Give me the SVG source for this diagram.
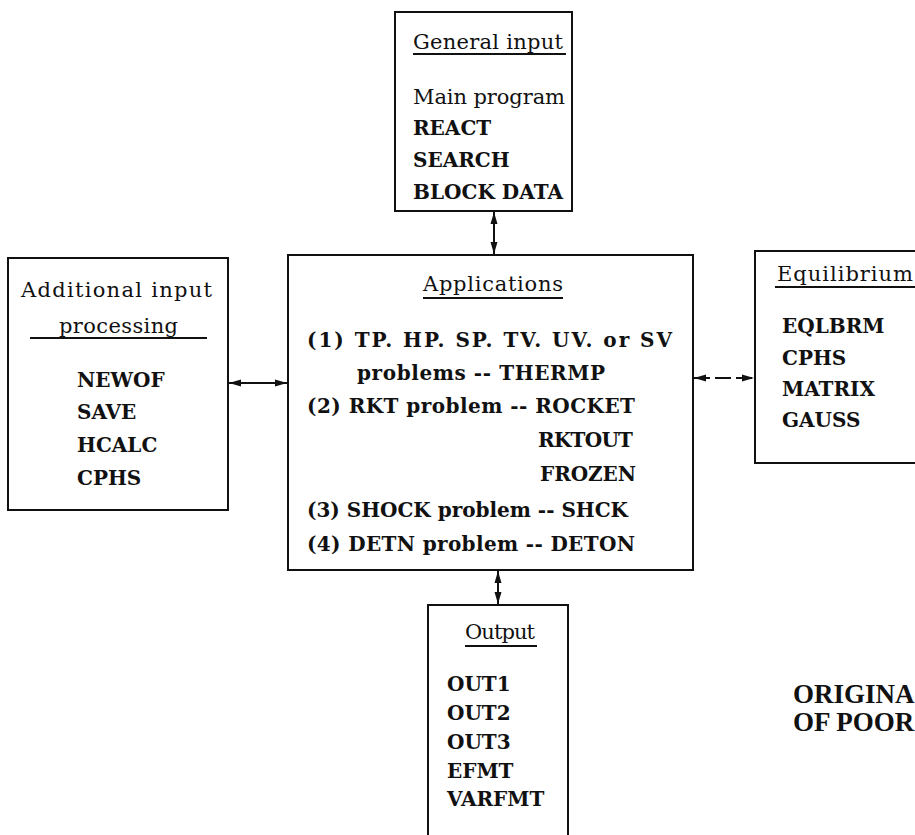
<svg xmlns="http://www.w3.org/2000/svg" width="915" height="835" viewBox="0 0 915 835">
<style>
text{font-family:"DejaVu Serif","Liberation Serif",serif;font-size:20px;fill:#111}
.t{font-weight:normal;font-size:21px}
.b{font-weight:bold}
.box{fill:#fff;stroke:#111;stroke-width:2}
.ul{stroke:#111;stroke-width:2}
.c{stroke:#111;stroke-width:2;fill:none;marker-start:url(#ah);marker-end:url(#ah)}
.stamp{font-family:"Liberation Serif","DejaVu Serif",serif;font-weight:bold;font-size:27px}
</style>
<defs>
<marker id="ah" viewBox="0 0 12 8" refX="12" refY="4" markerWidth="12" markerHeight="8" markerUnits="userSpaceOnUse" orient="auto-start-reverse">
<path d="M0,0.5 L12,4 L0,7.5 Z" fill="#111"/>
</marker>
</defs>
<rect width="915" height="835" fill="#fff"/>
<g id="connectors">
<line class="c" x1="494" y1="212" x2="494" y2="254"/>
<line class="c" x1="229" y1="383" x2="287" y2="383"/>
<line class="c" x1="694" y1="378" x2="754" y2="378" stroke-dasharray="16,5"/>
<line class="c" x1="498" y1="571" x2="498" y2="604"/>
</g>
<g id="general-input">
<rect class="box" x="395" y="12" width="177" height="199"/>
<text class="t" x="413" y="49" textLength="150" lengthAdjust="spacing">General input</text>
<line class="ul" x1="413" y1="54" x2="566" y2="54"/>
<text class="t" x="413" y="104" textLength="152" lengthAdjust="spacing">Main program</text>
<text class="b" x="413" y="135">REACT</text>
<text class="b" x="413" y="167">SEARCH</text>
<text class="b" x="413" y="199" textLength="150" lengthAdjust="spacing">BLOCK DATA</text>
</g>
<g id="additional-input">
<rect class="box" x="8" y="258" width="220" height="252"/>
<text class="t" x="21" y="297" textLength="191" lengthAdjust="spacing">Additional input</text>
<text class="t" x="59" y="333" textLength="119" lengthAdjust="spacing">processing</text>
<line class="ul" x1="30" y1="338" x2="207" y2="338"/>
<text class="b" x="77" y="387">NEWOF</text>
<text class="b" x="77" y="419">SAVE</text>
<text class="b" x="77" y="452">HCALC</text>
<text class="b" x="77" y="485">CPHS</text>
</g>
<g id="applications">
<rect class="box" x="288" y="255" width="405" height="315"/>
<text class="t" x="423" y="291" textLength="140" lengthAdjust="spacing">Applications</text>
<line class="ul" x1="423" y1="298" x2="563" y2="298"/>
<text class="b" x="307" y="347" textLength="365" lengthAdjust="spacing">(1) TP. HP. SP. TV. UV. or SV</text>
<text class="b" x="357" y="380" textLength="248" lengthAdjust="spacing">problems -- THERMP</text>
<text class="b" x="307" y="413" textLength="328" lengthAdjust="spacing">(2) RKT problem -- ROCKET</text>
<text class="b" x="538" y="447" textLength="95" lengthAdjust="spacing">RKTOUT</text>
<text class="b" x="540" y="481" textLength="96" lengthAdjust="spacing">FROZEN</text>
<text class="b" x="307" y="517" textLength="321" lengthAdjust="spacing">(3) SHOCK problem -- SHCK</text>
<text class="b" x="307" y="551" textLength="328" lengthAdjust="spacing">(4) DETN problem -- DETON</text>
</g>
<g id="equilibrium">
<rect class="box" x="755" y="251" width="200" height="212"/>
<text class="t" x="777" y="281" textLength="136" lengthAdjust="spacing">Equilibrium</text>
<line class="ul" x1="775" y1="287" x2="915" y2="287"/>
<text class="b" x="782" y="333">EQLBRM</text>
<text class="b" x="782" y="365">CPHS</text>
<text class="b" x="782" y="396">MATRIX</text>
<text class="b" x="782" y="427">GAUSS</text>
</g>
<g id="output">
<rect class="box" x="428" y="605" width="140" height="260"/>
<text class="t" x="465" y="639" textLength="70" lengthAdjust="spacing">Output</text>
<line class="ul" x1="465" y1="646" x2="537" y2="646"/>
<text class="b" x="447" y="691">OUT1</text>
<text class="b" x="447" y="720">OUT2</text>
<text class="b" x="447" y="749">OUT3</text>
<text class="b" x="447" y="778">EFMT</text>
<text class="b" x="447" y="806">VARFMT</text>
</g>
<g id="stamp">
<text class="stamp" x="793" y="703">ORIGINA</text>
<text class="stamp" x="793" y="731">OF POOR</text>
</g>
</svg>
